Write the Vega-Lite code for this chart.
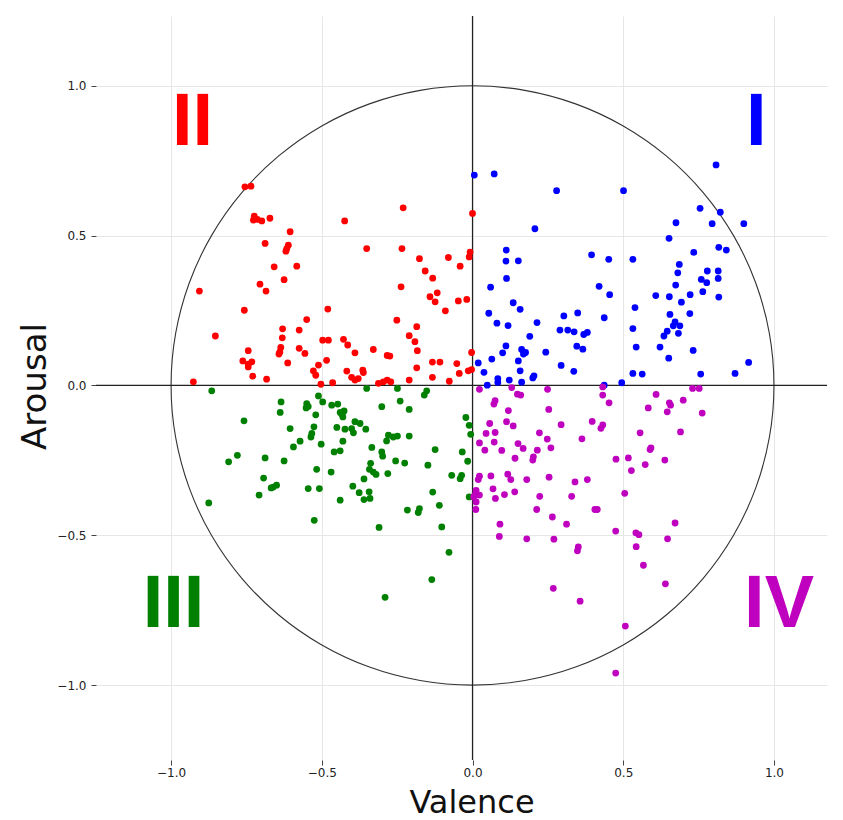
{
  "$schema": "https://vega.github.io/schema/vega-lite/v6.json",
  "autosize": "none",
  "width": 731,
  "height": 744,
  "padding": {"left": 96, "top": 16, "right": 16, "bottom": 60},
  "background": "white",
  "config": {
    "view": {"stroke": null},
    "axis": {
      "grid": true,
      "gridColor": "#e6e6e6",
      "gridWidth": 1,
      "domain": false,
      "tickColor": "#444444",
      "tickSize": 5,
      "labelFont": "DejaVu Sans",
      "labelFontSize": 12,
      "labelColor": "#222222",
      "labelOverlap": false,
      "titleFont": "DejaVu Sans",
      "titleFontWeight": "normal",
      "titleColor": "#111111"
    },
    "axisX": {"titleFontSize": 32, "labelPadding": 2, "titleX": 375.5, "titleY": 52, "titleAlign": "center", "titleBaseline": "alphabetic"},
    "axisY": {"titleFontSize": 34, "labelPadding": 5, "titleX": -51, "titleY": 370, "titleAngle": 270, "titleAlign": "center", "titleBaseline": "alphabetic"}
  },
  "datasets": {
    "ratings": [
      {"valence": -0.755, "arousal": 0.663, "quadrant": "II"},
      {"valence": -0.735, "arousal": 0.665, "quadrant": "II"},
      {"valence": -0.724, "arousal": 0.565, "quadrant": "II"},
      {"valence": -0.727, "arousal": 0.552, "quadrant": "II"},
      {"valence": -0.714, "arousal": 0.554, "quadrant": "II"},
      {"valence": -0.699, "arousal": 0.549, "quadrant": "II"},
      {"valence": -0.672, "arousal": 0.558, "quadrant": "II"},
      {"valence": -0.230, "arousal": 0.593, "quadrant": "II"},
      {"valence": 0.000, "arousal": 0.574, "quadrant": "II"},
      {"valence": -0.424, "arousal": 0.549, "quadrant": "II"},
      {"valence": -0.605, "arousal": 0.513, "quadrant": "II"},
      {"valence": -0.688, "arousal": 0.474, "quadrant": "II"},
      {"valence": -0.611, "arousal": 0.468, "quadrant": "II"},
      {"valence": -0.616, "arousal": 0.457, "quadrant": "II"},
      {"valence": -0.619, "arousal": 0.448, "quadrant": "II"},
      {"valence": -0.351, "arousal": 0.457, "quadrant": "II"},
      {"valence": -0.234, "arousal": 0.457, "quadrant": "II"},
      {"valence": -0.176, "arousal": 0.423, "quadrant": "II"},
      {"valence": -0.080, "arousal": 0.427, "quadrant": "II"},
      {"valence": -0.008, "arousal": 0.445, "quadrant": "II"},
      {"valence": -0.011, "arousal": 0.429, "quadrant": "II"},
      {"valence": -0.658, "arousal": 0.396, "quadrant": "II"},
      {"valence": -0.583, "arousal": 0.398, "quadrant": "II"},
      {"valence": -0.157, "arousal": 0.382, "quadrant": "II"},
      {"valence": -0.041, "arousal": 0.398, "quadrant": "II"},
      {"valence": -0.132, "arousal": 0.358, "quadrant": "II"},
      {"valence": -0.625, "arousal": 0.353, "quadrant": "II"},
      {"valence": -0.705, "arousal": 0.338, "quadrant": "II"},
      {"valence": -0.685, "arousal": 0.315, "quadrant": "II"},
      {"valence": -0.906, "arousal": 0.315, "quadrant": "II"},
      {"valence": -0.237, "arousal": 0.329, "quadrant": "II"},
      {"valence": -0.117, "arousal": 0.309, "quadrant": "II"},
      {"valence": -0.141, "arousal": 0.296, "quadrant": "II"},
      {"valence": -0.124, "arousal": 0.279, "quadrant": "II"},
      {"valence": -0.047, "arousal": 0.282, "quadrant": "II"},
      {"valence": -0.019, "arousal": 0.287, "quadrant": "II"},
      {"valence": -0.757, "arousal": 0.251, "quadrant": "II"},
      {"valence": -0.480, "arousal": 0.255, "quadrant": "II"},
      {"valence": -0.090, "arousal": 0.249, "quadrant": "II"},
      {"valence": -0.550, "arousal": 0.220, "quadrant": "II"},
      {"valence": -0.251, "arousal": 0.218, "quadrant": "II"},
      {"valence": -0.630, "arousal": 0.189, "quadrant": "II"},
      {"valence": -0.631, "arousal": 0.159, "quadrant": "II"},
      {"valence": -0.575, "arousal": 0.185, "quadrant": "II"},
      {"valence": -0.853, "arousal": 0.165, "quadrant": "II"},
      {"valence": -0.185, "arousal": 0.196, "quadrant": "II"},
      {"valence": -0.210, "arousal": 0.166, "quadrant": "II"},
      {"valence": -0.191, "arousal": 0.146, "quadrant": "II"},
      {"valence": -0.183, "arousal": 0.116, "quadrant": "II"},
      {"valence": -0.497, "arousal": 0.151, "quadrant": "II"},
      {"valence": -0.478, "arousal": 0.151, "quadrant": "II"},
      {"valence": -0.428, "arousal": 0.154, "quadrant": "II"},
      {"valence": -0.414, "arousal": 0.135, "quadrant": "II"},
      {"valence": -0.636, "arousal": 0.127, "quadrant": "II"},
      {"valence": -0.639, "arousal": 0.112, "quadrant": "II"},
      {"valence": -0.642, "arousal": 0.105, "quadrant": "II"},
      {"valence": -0.575, "arousal": 0.124, "quadrant": "II"},
      {"valence": -0.556, "arousal": 0.107, "quadrant": "II"},
      {"valence": -0.744, "arousal": 0.116, "quadrant": "II"},
      {"valence": -0.390, "arousal": 0.109, "quadrant": "II"},
      {"valence": -0.329, "arousal": 0.120, "quadrant": "II"},
      {"valence": -0.283, "arousal": 0.100, "quadrant": "II"},
      {"valence": -0.274, "arousal": 0.098, "quadrant": "II"},
      {"valence": -0.003, "arousal": 0.110, "quadrant": "II"},
      {"valence": -0.762, "arousal": 0.082, "quadrant": "II"},
      {"valence": -0.744, "arousal": 0.071, "quadrant": "II"},
      {"valence": -0.732, "arousal": 0.079, "quadrant": "II"},
      {"valence": -0.744, "arousal": 0.062, "quadrant": "II"},
      {"valence": -0.729, "arousal": 0.031, "quadrant": "II"},
      {"valence": -0.613, "arousal": 0.075, "quadrant": "II"},
      {"valence": -0.484, "arousal": 0.084, "quadrant": "II"},
      {"valence": -0.511, "arousal": 0.068, "quadrant": "II"},
      {"valence": -0.528, "arousal": 0.049, "quadrant": "II"},
      {"valence": -0.520, "arousal": 0.034, "quadrant": "II"},
      {"valence": -0.683, "arousal": 0.021, "quadrant": "II"},
      {"valence": -0.926, "arousal": 0.012, "quadrant": "II"},
      {"valence": -0.503, "arousal": 0.004, "quadrant": "II"},
      {"valence": -0.464, "arousal": 0.009, "quadrant": "II"},
      {"valence": -0.417, "arousal": 0.048, "quadrant": "II"},
      {"valence": -0.401, "arousal": 0.027, "quadrant": "II"},
      {"valence": -0.390, "arousal": 0.018, "quadrant": "II"},
      {"valence": -0.379, "arousal": 0.023, "quadrant": "II"},
      {"valence": -0.364, "arousal": 0.051, "quadrant": "II"},
      {"valence": -0.362, "arousal": 0.043, "quadrant": "II"},
      {"valence": -0.312, "arousal": 0.007, "quadrant": "II"},
      {"valence": -0.296, "arousal": 0.012, "quadrant": "II"},
      {"valence": -0.283, "arousal": 0.018, "quadrant": "II"},
      {"valence": -0.271, "arousal": 0.012, "quadrant": "II"},
      {"valence": -0.210, "arousal": 0.018, "quadrant": "II"},
      {"valence": -0.185, "arousal": 0.059, "quadrant": "II"},
      {"valence": -0.133, "arousal": 0.078, "quadrant": "II"},
      {"valence": -0.108, "arousal": 0.078, "quadrant": "II"},
      {"valence": -0.133, "arousal": 0.027, "quadrant": "II"},
      {"valence": -0.077, "arousal": 0.014, "quadrant": "II"},
      {"valence": -0.052, "arousal": 0.073, "quadrant": "II"},
      {"valence": -0.044, "arousal": 0.040, "quadrant": "II"},
      {"valence": -0.014, "arousal": 0.049, "quadrant": "II"},
      {"valence": -0.003, "arousal": 0.053, "quadrant": "II"},

      {"valence": 0.006, "arousal": 0.702, "quadrant": "I"},
      {"valence": 0.072, "arousal": 0.706, "quadrant": "I"},
      {"valence": 0.279, "arousal": 0.650, "quadrant": "I"},
      {"valence": 0.501, "arousal": 0.650, "quadrant": "I"},
      {"valence": 0.808, "arousal": 0.736, "quadrant": "I"},
      {"valence": 0.755, "arousal": 0.591, "quadrant": "I"},
      {"valence": 0.822, "arousal": 0.578, "quadrant": "I"},
      {"valence": 0.675, "arousal": 0.543, "quadrant": "I"},
      {"valence": 0.795, "arousal": 0.540, "quadrant": "I"},
      {"valence": 0.900, "arousal": 0.540, "quadrant": "I"},
      {"valence": 0.207, "arousal": 0.523, "quadrant": "I"},
      {"valence": 0.652, "arousal": 0.491, "quadrant": "I"},
      {"valence": 0.817, "arousal": 0.461, "quadrant": "I"},
      {"valence": 0.842, "arousal": 0.452, "quadrant": "I"},
      {"valence": 0.734, "arousal": 0.444, "quadrant": "I"},
      {"valence": 0.112, "arousal": 0.452, "quadrant": "I"},
      {"valence": 0.111, "arousal": 0.415, "quadrant": "I"},
      {"valence": 0.152, "arousal": 0.416, "quadrant": "I"},
      {"valence": 0.395, "arousal": 0.436, "quadrant": "I"},
      {"valence": 0.452, "arousal": 0.421, "quadrant": "I"},
      {"valence": 0.532, "arousal": 0.421, "quadrant": "I"},
      {"valence": 0.686, "arousal": 0.404, "quadrant": "I"},
      {"valence": 0.681, "arousal": 0.376, "quadrant": "I"},
      {"valence": 0.779, "arousal": 0.382, "quadrant": "I"},
      {"valence": 0.815, "arousal": 0.382, "quadrant": "I"},
      {"valence": 0.815, "arousal": 0.357, "quadrant": "I"},
      {"valence": 0.759, "arousal": 0.354, "quadrant": "I"},
      {"valence": 0.777, "arousal": 0.343, "quadrant": "I"},
      {"valence": 0.113, "arousal": 0.357, "quadrant": "I"},
      {"valence": 0.060, "arousal": 0.328, "quadrant": "I"},
      {"valence": 0.420, "arousal": 0.331, "quadrant": "I"},
      {"valence": 0.674, "arousal": 0.335, "quadrant": "I"},
      {"valence": 0.764, "arousal": 0.313, "quadrant": "I"},
      {"valence": 0.455, "arousal": 0.303, "quadrant": "I"},
      {"valence": 0.608, "arousal": 0.300, "quadrant": "I"},
      {"valence": 0.653, "arousal": 0.296, "quadrant": "I"},
      {"valence": 0.722, "arousal": 0.303, "quadrant": "I"},
      {"valence": 0.817, "arousal": 0.295, "quadrant": "I"},
      {"valence": 0.693, "arousal": 0.278, "quadrant": "I"},
      {"valence": 0.135, "arousal": 0.276, "quadrant": "I"},
      {"valence": 0.158, "arousal": 0.254, "quadrant": "I"},
      {"valence": 0.054, "arousal": 0.241, "quadrant": "I"},
      {"valence": 0.539, "arousal": 0.260, "quadrant": "I"},
      {"valence": 0.303, "arousal": 0.232, "quadrant": "I"},
      {"valence": 0.349, "arousal": 0.242, "quadrant": "I"},
      {"valence": 0.437, "arousal": 0.226, "quadrant": "I"},
      {"valence": 0.655, "arousal": 0.237, "quadrant": "I"},
      {"valence": 0.721, "arousal": 0.240, "quadrant": "I"},
      {"valence": 0.081, "arousal": 0.208, "quadrant": "I"},
      {"valence": 0.118, "arousal": 0.200, "quadrant": "I"},
      {"valence": 0.214, "arousal": 0.210, "quadrant": "I"},
      {"valence": 0.672, "arousal": 0.212, "quadrant": "I"},
      {"valence": 0.688, "arousal": 0.199, "quadrant": "I"},
      {"valence": 0.666, "arousal": 0.199, "quadrant": "I"},
      {"valence": 0.290, "arousal": 0.185, "quadrant": "I"},
      {"valence": 0.316, "arousal": 0.185, "quadrant": "I"},
      {"valence": 0.337, "arousal": 0.179, "quadrant": "I"},
      {"valence": 0.369, "arousal": 0.170, "quadrant": "I"},
      {"valence": 0.381, "arousal": 0.177, "quadrant": "I"},
      {"valence": 0.532, "arousal": 0.190, "quadrant": "I"},
      {"valence": 0.646, "arousal": 0.181, "quadrant": "I"},
      {"valence": 0.635, "arousal": 0.165, "quadrant": "I"},
      {"valence": 0.683, "arousal": 0.174, "quadrant": "I"},
      {"valence": 0.190, "arousal": 0.164, "quadrant": "I"},
      {"valence": 0.111, "arousal": 0.132, "quadrant": "I"},
      {"valence": 0.163, "arousal": 0.120, "quadrant": "I"},
      {"valence": 0.176, "arousal": 0.110, "quadrant": "I"},
      {"valence": 0.169, "arousal": 0.105, "quadrant": "I"},
      {"valence": 0.152, "arousal": 0.082, "quadrant": "I"},
      {"valence": 0.158, "arousal": 0.049, "quadrant": "I"},
      {"valence": 0.100, "arousal": 0.109, "quadrant": "I"},
      {"valence": 0.346, "arousal": 0.131, "quadrant": "I"},
      {"valence": 0.366, "arousal": 0.121, "quadrant": "I"},
      {"valence": 0.243, "arousal": 0.111, "quadrant": "I"},
      {"valence": 0.543, "arousal": 0.128, "quadrant": "I"},
      {"valence": 0.622, "arousal": 0.128, "quadrant": "I"},
      {"valence": 0.732, "arousal": 0.117, "quadrant": "I"},
      {"valence": 0.651, "arousal": 0.091, "quadrant": "I"},
      {"valence": 0.064, "arousal": 0.088, "quadrant": "I"},
      {"valence": 0.019, "arousal": 0.075, "quadrant": "I"},
      {"valence": 0.294, "arousal": 0.067, "quadrant": "I"},
      {"valence": 0.336, "arousal": 0.047, "quadrant": "I"},
      {"valence": 0.916, "arousal": 0.077, "quadrant": "I"},
      {"valence": 0.038, "arousal": 0.044, "quadrant": "I"},
      {"valence": 0.122, "arousal": 0.018, "quadrant": "I"},
      {"valence": 0.204, "arousal": 0.032, "quadrant": "I"},
      {"valence": 0.200, "arousal": 0.025, "quadrant": "I"},
      {"valence": 0.163, "arousal": 0.011, "quadrant": "I"},
      {"valence": 0.084, "arousal": 0.023, "quadrant": "I"},
      {"valence": 0.084, "arousal": 0.010, "quadrant": "I"},
      {"valence": 0.049, "arousal": 0.001, "quadrant": "I"},
      {"valence": 0.532, "arousal": 0.040, "quadrant": "I"},
      {"valence": 0.563, "arousal": 0.038, "quadrant": "I"},
      {"valence": 0.757, "arousal": 0.038, "quadrant": "I"},
      {"valence": 0.871, "arousal": 0.040, "quadrant": "I"},
      {"valence": 0.495, "arousal": 0.009, "quadrant": "I"},
      {"valence": 0.437, "arousal": 0.001, "quadrant": "I"},

      {"valence": -0.865, "arousal": -0.018, "quadrant": "III"},
      {"valence": -0.635, "arousal": -0.055, "quadrant": "III"},
      {"valence": -0.638, "arousal": -0.090, "quadrant": "III"},
      {"valence": -0.758, "arousal": -0.118, "quadrant": "III"},
      {"valence": -0.550, "arousal": -0.061, "quadrant": "III"},
      {"valence": -0.545, "arousal": -0.070, "quadrant": "III"},
      {"valence": -0.552, "arousal": -0.075, "quadrant": "III"},
      {"valence": -0.511, "arousal": -0.035, "quadrant": "III"},
      {"valence": -0.497, "arousal": -0.055, "quadrant": "III"},
      {"valence": -0.467, "arousal": -0.066, "quadrant": "III"},
      {"valence": -0.447, "arousal": -0.062, "quadrant": "III"},
      {"valence": -0.520, "arousal": -0.098, "quadrant": "III"},
      {"valence": -0.439, "arousal": -0.090, "quadrant": "III"},
      {"valence": -0.426, "arousal": -0.085, "quadrant": "III"},
      {"valence": -0.430, "arousal": -0.105, "quadrant": "III"},
      {"valence": -0.433, "arousal": -0.097, "quadrant": "III"},
      {"valence": -0.351, "arousal": -0.010, "quadrant": "III"},
      {"valence": -0.301, "arousal": -0.071, "quadrant": "III"},
      {"valence": -0.249, "arousal": -0.010, "quadrant": "III"},
      {"valence": -0.240, "arousal": -0.052, "quadrant": "III"},
      {"valence": -0.210, "arousal": -0.080, "quadrant": "III"},
      {"valence": -0.160, "arousal": -0.032, "quadrant": "III"},
      {"valence": -0.152, "arousal": -0.018, "quadrant": "III"},
      {"valence": -0.605, "arousal": -0.144, "quadrant": "III"},
      {"valence": -0.526, "arousal": -0.138, "quadrant": "III"},
      {"valence": -0.533, "arousal": -0.160, "quadrant": "III"},
      {"valence": -0.536, "arousal": -0.172, "quadrant": "III"},
      {"valence": -0.572, "arousal": -0.186, "quadrant": "III"},
      {"valence": -0.594, "arousal": -0.205, "quadrant": "III"},
      {"valence": -0.502, "arousal": -0.196, "quadrant": "III"},
      {"valence": -0.450, "arousal": -0.140, "quadrant": "III"},
      {"valence": -0.423, "arousal": -0.146, "quadrant": "III"},
      {"valence": -0.401, "arousal": -0.144, "quadrant": "III"},
      {"valence": -0.390, "arousal": -0.121, "quadrant": "III"},
      {"valence": -0.373, "arousal": -0.127, "quadrant": "III"},
      {"valence": -0.395, "arousal": -0.158, "quadrant": "III"},
      {"valence": -0.354, "arousal": -0.146, "quadrant": "III"},
      {"valence": -0.430, "arousal": -0.186, "quadrant": "III"},
      {"valence": -0.459, "arousal": -0.222, "quadrant": "III"},
      {"valence": -0.439, "arousal": -0.218, "quadrant": "III"},
      {"valence": -0.279, "arousal": -0.166, "quadrant": "III"},
      {"valence": -0.285, "arousal": -0.185, "quadrant": "III"},
      {"valence": -0.263, "arousal": -0.172, "quadrant": "III"},
      {"valence": -0.249, "arousal": -0.169, "quadrant": "III"},
      {"valence": -0.210, "arousal": -0.169, "quadrant": "III"},
      {"valence": -0.334, "arousal": -0.207, "quadrant": "III"},
      {"valence": -0.301, "arousal": -0.222, "quadrant": "III"},
      {"valence": -0.298, "arousal": -0.236, "quadrant": "III"},
      {"valence": -0.124, "arousal": -0.214, "quadrant": "III"},
      {"valence": -0.034, "arousal": -0.222, "quadrant": "III"},
      {"valence": -0.022, "arousal": -0.107, "quadrant": "III"},
      {"valence": -0.011, "arousal": -0.133, "quadrant": "III"},
      {"valence": -0.006, "arousal": -0.163, "quadrant": "III"},
      {"valence": -0.016, "arousal": -0.253, "quadrant": "III"},
      {"valence": -0.780, "arousal": -0.233, "quadrant": "III"},
      {"valence": -0.809, "arousal": -0.255, "quadrant": "III"},
      {"valence": -0.688, "arousal": -0.242, "quadrant": "III"},
      {"valence": -0.625, "arousal": -0.252, "quadrant": "III"},
      {"valence": -0.517, "arousal": -0.280, "quadrant": "III"},
      {"valence": -0.469, "arousal": -0.289, "quadrant": "III"},
      {"valence": -0.338, "arousal": -0.260, "quadrant": "III"},
      {"valence": -0.342, "arousal": -0.280, "quadrant": "III"},
      {"valence": -0.329, "arousal": -0.289, "quadrant": "III"},
      {"valence": -0.320, "arousal": -0.297, "quadrant": "III"},
      {"valence": -0.281, "arousal": -0.294, "quadrant": "III"},
      {"valence": -0.255, "arousal": -0.252, "quadrant": "III"},
      {"valence": -0.225, "arousal": -0.259, "quadrant": "III"},
      {"valence": -0.148, "arousal": -0.266, "quadrant": "III"},
      {"valence": -0.069, "arousal": -0.300, "quadrant": "III"},
      {"valence": -0.041, "arousal": -0.311, "quadrant": "III"},
      {"valence": -0.036, "arousal": -0.300, "quadrant": "III"},
      {"valence": -0.693, "arousal": -0.309, "quadrant": "III"},
      {"valence": -0.661, "arousal": -0.339, "quadrant": "III"},
      {"valence": -0.650, "arousal": -0.333, "quadrant": "III"},
      {"valence": -0.668, "arousal": -0.342, "quadrant": "III"},
      {"valence": -0.708, "arousal": -0.366, "quadrant": "III"},
      {"valence": -0.545, "arousal": -0.344, "quadrant": "III"},
      {"valence": -0.508, "arousal": -0.344, "quadrant": "III"},
      {"valence": -0.875, "arousal": -0.392, "quadrant": "III"},
      {"valence": -0.439, "arousal": -0.383, "quadrant": "III"},
      {"valence": -0.397, "arousal": -0.336, "quadrant": "III"},
      {"valence": -0.376, "arousal": -0.358, "quadrant": "III"},
      {"valence": -0.360, "arousal": -0.381, "quadrant": "III"},
      {"valence": -0.343, "arousal": -0.355, "quadrant": "III"},
      {"valence": -0.340, "arousal": -0.377, "quadrant": "III"},
      {"valence": -0.360, "arousal": -0.312, "quadrant": "III"},
      {"valence": -0.132, "arousal": -0.356, "quadrant": "III"},
      {"valence": -0.011, "arousal": -0.372, "quadrant": "III"},
      {"valence": -0.216, "arousal": -0.416, "quadrant": "III"},
      {"valence": -0.176, "arousal": -0.411, "quadrant": "III"},
      {"valence": -0.180, "arousal": -0.424, "quadrant": "III"},
      {"valence": -0.110, "arousal": -0.400, "quadrant": "III"},
      {"valence": -0.525, "arousal": -0.450, "quadrant": "III"},
      {"valence": -0.310, "arousal": -0.474, "quadrant": "III"},
      {"valence": -0.102, "arousal": -0.472, "quadrant": "III"},
      {"valence": -0.078, "arousal": -0.557, "quadrant": "III"},
      {"valence": -0.135, "arousal": -0.648, "quadrant": "III"},
      {"valence": -0.290, "arousal": -0.707, "quadrant": "III"},

      {"valence": 0.023, "arousal": -0.013, "quadrant": "IV"},
      {"valence": 0.130, "arousal": -0.007, "quadrant": "IV"},
      {"valence": 0.149, "arousal": -0.029, "quadrant": "IV"},
      {"valence": 0.160, "arousal": -0.032, "quadrant": "IV"},
      {"valence": 0.249, "arousal": -0.013, "quadrant": "IV"},
      {"valence": 0.432, "arousal": -0.005, "quadrant": "IV"},
      {"valence": 0.432, "arousal": -0.032, "quadrant": "IV"},
      {"valence": 0.453, "arousal": -0.058, "quadrant": "IV"},
      {"valence": 0.609, "arousal": -0.030, "quadrant": "IV"},
      {"valence": 0.730, "arousal": -0.010, "quadrant": "IV"},
      {"valence": 0.752, "arousal": -0.010, "quadrant": "IV"},
      {"valence": 0.699, "arousal": -0.049, "quadrant": "IV"},
      {"valence": 0.653, "arousal": -0.058, "quadrant": "IV"},
      {"valence": 0.657, "arousal": -0.066, "quadrant": "IV"},
      {"valence": 0.646, "arousal": -0.088, "quadrant": "IV"},
      {"valence": 0.583, "arousal": -0.075, "quadrant": "IV"},
      {"valence": 0.762, "arousal": -0.092, "quadrant": "IV"},
      {"valence": 0.075, "arousal": -0.051, "quadrant": "IV"},
      {"valence": 0.071, "arousal": -0.062, "quadrant": "IV"},
      {"valence": 0.119, "arousal": -0.084, "quadrant": "IV"},
      {"valence": 0.253, "arousal": -0.080, "quadrant": "IV"},
      {"valence": 0.057, "arousal": -0.127, "quadrant": "IV"},
      {"valence": 0.113, "arousal": -0.121, "quadrant": "IV"},
      {"valence": 0.135, "arousal": -0.135, "quadrant": "IV"},
      {"valence": 0.294, "arousal": -0.131, "quadrant": "IV"},
      {"valence": 0.397, "arousal": -0.120, "quadrant": "IV"},
      {"valence": 0.432, "arousal": -0.132, "quadrant": "IV"},
      {"valence": 0.426, "arousal": -0.143, "quadrant": "IV"},
      {"valence": 0.045, "arousal": -0.160, "quadrant": "IV"},
      {"valence": 0.075, "arousal": -0.157, "quadrant": "IV"},
      {"valence": 0.222, "arousal": -0.158, "quadrant": "IV"},
      {"valence": 0.556, "arousal": -0.158, "quadrant": "IV"},
      {"valence": 0.690, "arousal": -0.155, "quadrant": "IV"},
      {"valence": 0.023, "arousal": -0.192, "quadrant": "IV"},
      {"valence": 0.041, "arousal": -0.216, "quadrant": "IV"},
      {"valence": 0.072, "arousal": -0.189, "quadrant": "IV"},
      {"valence": 0.097, "arousal": -0.217, "quadrant": "IV"},
      {"valence": 0.151, "arousal": -0.194, "quadrant": "IV"},
      {"valence": 0.168, "arousal": -0.210, "quadrant": "IV"},
      {"valence": 0.248, "arousal": -0.179, "quadrant": "IV"},
      {"valence": 0.260, "arousal": -0.208, "quadrant": "IV"},
      {"valence": 0.363, "arousal": -0.178, "quadrant": "IV"},
      {"valence": 0.215, "arousal": -0.216, "quadrant": "IV"},
      {"valence": 0.202, "arousal": -0.238, "quadrant": "IV"},
      {"valence": 0.200, "arousal": -0.249, "quadrant": "IV"},
      {"valence": 0.141, "arousal": -0.243, "quadrant": "IV"},
      {"valence": 0.476, "arousal": -0.246, "quadrant": "IV"},
      {"valence": 0.517, "arousal": -0.242, "quadrant": "IV"},
      {"valence": 0.527, "arousal": -0.284, "quadrant": "IV"},
      {"valence": 0.589, "arousal": -0.214, "quadrant": "IV"},
      {"valence": 0.592, "arousal": -0.208, "quadrant": "IV"},
      {"valence": 0.573, "arousal": -0.264, "quadrant": "IV"},
      {"valence": 0.638, "arousal": -0.249, "quadrant": "IV"},
      {"valence": 0.023, "arousal": -0.303, "quadrant": "IV"},
      {"valence": 0.019, "arousal": -0.314, "quadrant": "IV"},
      {"valence": 0.061, "arousal": -0.302, "quadrant": "IV"},
      {"valence": 0.117, "arousal": -0.296, "quadrant": "IV"},
      {"valence": 0.127, "arousal": -0.314, "quadrant": "IV"},
      {"valence": 0.180, "arousal": -0.314, "quadrant": "IV"},
      {"valence": 0.254, "arousal": -0.306, "quadrant": "IV"},
      {"valence": 0.340, "arousal": -0.322, "quadrant": "IV"},
      {"valence": 0.381, "arousal": -0.314, "quadrant": "IV"},
      {"valence": 0.068, "arousal": -0.345, "quadrant": "IV"},
      {"valence": 0.076, "arousal": -0.377, "quadrant": "IV"},
      {"valence": 0.106, "arousal": -0.364, "quadrant": "IV"},
      {"valence": 0.140, "arousal": -0.355, "quadrant": "IV"},
      {"valence": 0.223, "arousal": -0.370, "quadrant": "IV"},
      {"valence": 0.329, "arousal": -0.370, "quadrant": "IV"},
      {"valence": 0.505, "arousal": -0.360, "quadrant": "IV"},
      {"valence": 0.012, "arousal": -0.350, "quadrant": "IV"},
      {"valence": 0.008, "arousal": -0.366, "quadrant": "IV"},
      {"valence": 0.023, "arousal": -0.366, "quadrant": "IV"},
      {"valence": 0.012, "arousal": -0.389, "quadrant": "IV"},
      {"valence": 0.011, "arousal": -0.414, "quadrant": "IV"},
      {"valence": 0.004, "arousal": -0.372, "quadrant": "IV"},
      {"valence": 0.213, "arousal": -0.414, "quadrant": "IV"},
      {"valence": 0.406, "arousal": -0.414, "quadrant": "IV"},
      {"valence": 0.414, "arousal": -0.414, "quadrant": "IV"},
      {"valence": 0.265, "arousal": -0.439, "quadrant": "IV"},
      {"valence": 0.312, "arousal": -0.463, "quadrant": "IV"},
      {"valence": 0.091, "arousal": -0.463, "quadrant": "IV"},
      {"valence": 0.089, "arousal": -0.504, "quadrant": "IV"},
      {"valence": 0.180, "arousal": -0.512, "quadrant": "IV"},
      {"valence": 0.270, "arousal": -0.513, "quadrant": "IV"},
      {"valence": 0.475, "arousal": -0.486, "quadrant": "IV"},
      {"valence": 0.542, "arousal": -0.492, "quadrant": "IV"},
      {"valence": 0.552, "arousal": -0.498, "quadrant": "IV"},
      {"valence": 0.672, "arousal": -0.459, "quadrant": "IV"},
      {"valence": 0.647, "arousal": -0.512, "quadrant": "IV"},
      {"valence": 0.543, "arousal": -0.538, "quadrant": "IV"},
      {"valence": 0.351, "arousal": -0.539, "quadrant": "IV"},
      {"valence": 0.348, "arousal": -0.552, "quadrant": "IV"},
      {"valence": 0.567, "arousal": -0.600, "quadrant": "IV"},
      {"valence": 0.640, "arousal": -0.662, "quadrant": "IV"},
      {"valence": 0.268, "arousal": -0.677, "quadrant": "IV"},
      {"valence": 0.357, "arousal": -0.720, "quadrant": "IV"},
      {"valence": 0.507, "arousal": -0.803, "quadrant": "IV"},
      {"valence": 0.475, "arousal": -0.960, "quadrant": "IV"}
    ],
    "unit_circle": [
      {"deg": 0, "valence": 1, "arousal": 0},
      {"deg": 10, "valence": 0.9848, "arousal": 0.1736},
      {"deg": 20, "valence": 0.9397, "arousal": 0.3420},
      {"deg": 30, "valence": 0.8660, "arousal": 0.5},
      {"deg": 40, "valence": 0.7660, "arousal": 0.6428},
      {"deg": 50, "valence": 0.6428, "arousal": 0.7660},
      {"deg": 60, "valence": 0.5, "arousal": 0.8660},
      {"deg": 70, "valence": 0.3420, "arousal": 0.9397},
      {"deg": 80, "valence": 0.1736, "arousal": 0.9848},
      {"deg": 90, "valence": 0, "arousal": 1},
      {"deg": 100, "valence": -0.1736, "arousal": 0.9848},
      {"deg": 110, "valence": -0.3420, "arousal": 0.9397},
      {"deg": 120, "valence": -0.5, "arousal": 0.8660},
      {"deg": 130, "valence": -0.6428, "arousal": 0.7660},
      {"deg": 140, "valence": -0.7660, "arousal": 0.6428},
      {"deg": 150, "valence": -0.8660, "arousal": 0.5},
      {"deg": 160, "valence": -0.9397, "arousal": 0.3420},
      {"deg": 170, "valence": -0.9848, "arousal": 0.1736},
      {"deg": 180, "valence": -1, "arousal": 0},
      {"deg": 190, "valence": -0.9848, "arousal": -0.1736},
      {"deg": 200, "valence": -0.9397, "arousal": -0.3420},
      {"deg": 210, "valence": -0.8660, "arousal": -0.5},
      {"deg": 220, "valence": -0.7660, "arousal": -0.6428},
      {"deg": 230, "valence": -0.6428, "arousal": -0.7660},
      {"deg": 240, "valence": -0.5, "arousal": -0.8660},
      {"deg": 250, "valence": -0.3420, "arousal": -0.9397},
      {"deg": 260, "valence": -0.1736, "arousal": -0.9848},
      {"deg": 270, "valence": 0, "arousal": -1},
      {"deg": 280, "valence": 0.1736, "arousal": -0.9848},
      {"deg": 290, "valence": 0.3420, "arousal": -0.9397},
      {"deg": 300, "valence": 0.5, "arousal": -0.8660},
      {"deg": 310, "valence": 0.6428, "arousal": -0.7660},
      {"deg": 320, "valence": 0.7660, "arousal": -0.6428},
      {"deg": 330, "valence": 0.8660, "arousal": -0.5},
      {"deg": 340, "valence": 0.9397, "arousal": -0.3420},
      {"deg": 350, "valence": 0.9848, "arousal": -0.1736}
    ],
    "quadrant_names": [
      {"quadrant": "I", "valence": 0.941, "arousal": 0.802},
      {"quadrant": "II", "valence": -0.929, "arousal": 0.802},
      {"quadrant": "III", "valence": -0.992, "arousal": -0.806},
      {"quadrant": "IV", "valence": 1.017, "arousal": -0.806}
    ]
  },
  "layer": [
    {
      "data": {"name": "unit_circle"},
      "mark": {"type": "line", "interpolate": "cardinal-closed", "stroke": "#333333", "strokeWidth": 1.1},
      "encoding": {
        "x": {
          "field": "valence", "type": "quantitative",
          "scale": {"domain": [-1.249, 1.176], "nice": false, "zero": false},
          "axis": {"title": "Valence", "values": [-1, -0.5, 0, 0.5, 1], "format": ".1f"}
        },
        "y": {
          "field": "arousal", "type": "quantitative",
          "scale": {"domain": [-1.25, 1.233], "nice": false, "zero": false},
          "axis": {"title": "Arousal", "values": [-1, -0.5, 0, 0.5, 1], "format": ".1f"}
        },
        "order": {"field": "deg", "type": "quantitative"}
      }
    },
    {
      "data": {"values": [{}]},
      "mark": {"type": "rule", "stroke": "#222222", "strokeWidth": 1.2},
      "encoding": {
        "x": {
          "datum": 0, "type": "quantitative",
          "scale": {"domain": [-1.249, 1.176], "nice": false, "zero": false},
          "axis": {"title": "Valence", "values": [-1, -0.5, 0, 0.5, 1], "format": ".1f"}
        }
      }
    },
    {
      "data": {"values": [{}]},
      "mark": {"type": "rule", "stroke": "#222222", "strokeWidth": 1.2},
      "encoding": {
        "y": {
          "datum": 0, "type": "quantitative",
          "scale": {"domain": [-1.25, 1.233], "nice": false, "zero": false},
          "axis": {"title": "Arousal", "values": [-1, -0.5, 0, 0.5, 1], "format": ".1f"}
        }
      }
    },
    {
      "data": {"name": "ratings"},
      "mark": {"type": "point", "shape": "circle", "filled": true, "opacity": 1, "size": 46, "strokeWidth": 0},
      "encoding": {
        "x": {
          "field": "valence", "type": "quantitative",
          "scale": {"domain": [-1.249, 1.176], "nice": false, "zero": false},
          "axis": {"title": "Valence", "values": [-1, -0.5, 0, 0.5, 1], "format": ".1f"}
        },
        "y": {
          "field": "arousal", "type": "quantitative",
          "scale": {"domain": [-1.25, 1.233], "nice": false, "zero": false},
          "axis": {"title": "Arousal", "values": [-1, -0.5, 0, 0.5, 1], "format": ".1f"}
        },
        "color": {
          "field": "quadrant", "type": "nominal",
          "scale": {"domain": ["I", "II", "III", "IV"], "range": ["#0000ff", "#ff0000", "#008000", "#bf00bf"]},
          "legend": null
        }
      }
    },
    {
      "data": {"name": "quadrant_names"},
      "mark": {"type": "text", "font": "Liberation Sans", "fontWeight": "bold", "fontSize": 74, "align": "center", "baseline": "alphabetic"},
      "encoding": {
        "x": {
          "field": "valence", "type": "quantitative",
          "scale": {"domain": [-1.249, 1.176], "nice": false, "zero": false},
          "axis": {"title": "Valence", "values": [-1, -0.5, 0, 0.5, 1], "format": ".1f"}
        },
        "y": {
          "field": "arousal", "type": "quantitative",
          "scale": {"domain": [-1.25, 1.233], "nice": false, "zero": false},
          "axis": {"title": "Arousal", "values": [-1, -0.5, 0, 0.5, 1], "format": ".1f"}
        },
        "text": {"field": "quadrant"},
        "color": {
          "field": "quadrant", "type": "nominal",
          "scale": {"domain": ["I", "II", "III", "IV"], "range": ["#0000ff", "#ff0000", "#008000", "#bf00bf"]},
          "legend": null
        }
      }
    }
  ]
}
